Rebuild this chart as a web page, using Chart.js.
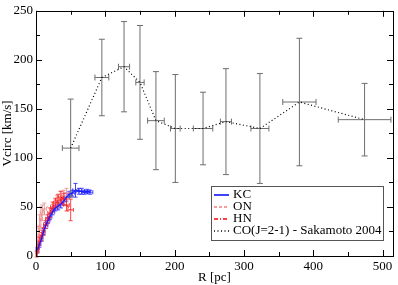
<!DOCTYPE html>
<html>
<head>
<meta charset="utf-8">
<script src="https://cdn.jsdelivr.net/npm/chart.js@4"></script>
<style>
  html, body { margin: 0; padding: 0; background: #fff; }
  canvas { display: block; }
</style>
</head>
<body>
<canvas id="myChart" width="398" height="285"></canvas>
<script>
// axis ticks
const xTicks = [0, 100, 200, 300, 400, 500];
const yTicks = [0, 50, 100, 150, 200, 250];

// KC
const kcR = [2, 5, 8, 11, 14, 17, 20, 24, 28, 32, 36, 40, 44, 48, 52, 57, 62, 66, 70, 74, 78];
const kcV = [6, 12, 18, 25, 31, 36, 40, 45, 49, 51, 53, 56, 60, 63, 64, 67, 66, 66, 65, 66, 65];
const kcRErr = [2, 2, 2, 2, 3, 3, 3, 3, 3, 3, 3, 4, 4, 4, 4, 4, 4, 4, 4, 4, 4];
const kcVErr = [3, 3, 3, 3, 3, 3, 3, 3, 3, 4, 4, 4, 4, 3, 3, 7, 3, 3, 2, 2, 2];

// ON
const onR = [3, 5, 7, 9, 12, 30, 35, 40, 44];
const onV = [20, 30, 38, 44, 48, 56, 60, 62, 64];
const onRErr = [2, 2, 2, 3, 3, 4, 4, 4, 4];
const onVErr = [10, 12, 12, 8, 6, 6, 6, 5, 5];

// HN
const hnR = [1, 3, 5, 8, 11, 14, 17, 20, 24, 28, 32, 36, 40, 44, 50];
const hnV = [2, 8, 15, 20, 25, 32, 38, 44, 50, 54, 57, 60, 58, 52, 47];
const hnRErr = [1, 2, 2, 2, 2, 3, 3, 3, 3, 3, 4, 4, 4, 4, 4];
const hnVErr = [3, 4, 4, 4, 4, 4, 4, 5, 5, 5, 6, 6, 6, 6, 11];

// CO(J=2-1) - Sakamoto 2004
const coR = [50, 95, 127, 150, 173, 201, 241, 274, 323, 380, 474];
const coV = [110, 182, 193, 177, 138, 130, 130, 137, 130, 157, 139];
const coRErr = [12, 10, 8, 6, 12, 7, 14, 8, 13, 24, 38];
const coVErr = [50, 39, 46, 58, 50, 55, 37, 54, 56, 65, 37];

const serif = "'Liberation Serif', 'Times New Roman', serif";
Chart.defaults.font.family = serif;
Chart.defaults.font.size = 13;
Chart.defaults.color = "#000";

function pts(xs, ys) {
  return xs.map((x, i) => ({ x: x, y: ys[i] }));
}

// error bars with caps, drawn under the lines
const errorBars = {
  id: "errorBars",
  beforeDatasetsDraw(chart) {
    const { ctx, scales: { x, y } } = chart;
    ctx.save();
    chart.data.datasets.forEach(ds => {
      ctx.strokeStyle = ds.errColor;
      ctx.lineWidth = 1;
      ctx.setLineDash([]);
      ds.data.forEach((p, i) => {
        const px = x.getPixelForValue(p.x);
        const py = y.getPixelForValue(p.y);
        const x0 = x.getPixelForValue(p.x - ds.errX[i]);
        const x1 = x.getPixelForValue(p.x + ds.errX[i]);
        const y0 = y.getPixelForValue(p.y - ds.errY[i]);
        const y1 = y.getPixelForValue(p.y + ds.errY[i]);
        const c = ds.cap;
        ctx.beginPath();
        ctx.moveTo(x0, py); ctx.lineTo(x1, py);
        ctx.moveTo(x0, py - c); ctx.lineTo(x0, py + c);
        ctx.moveTo(x1, py - c); ctx.lineTo(x1, py + c);
        ctx.moveTo(px, y0); ctx.lineTo(px, y1);
        ctx.moveTo(px - c, y0); ctx.lineTo(px + c, y0);
        ctx.moveTo(px - c, y1); ctx.lineTo(px + c, y1);
        ctx.stroke();
      });
    });
    ctx.restore();
  }
};

// frame, inward ticks and legend box
const frame = {
  id: "frame",
  afterDraw(chart) {
    const { ctx, chartArea: a, scales: { x, y } } = chart;
    ctx.save();
    ctx.strokeStyle = "#000";
    ctx.lineWidth = 1;
    ctx.setLineDash([]);
    ctx.strokeRect(Math.round(a.left) + 0.5, Math.round(a.top) + 0.5,
      Math.round(a.right - a.left), Math.round(a.bottom - a.top));
    ctx.beginPath();
    for (let v = 0; v <= 500; v += 50) {
      const px = Math.round(x.getPixelForValue(v)) + 0.5;
      const len = v % 100 === 0 ? 6 : 4;
      ctx.moveTo(px, a.bottom); ctx.lineTo(px, a.bottom - len);
      ctx.moveTo(px, a.top); ctx.lineTo(px, a.top + len);
    }
    for (let v = 0; v <= 250; v += 25) {
      const py = Math.round(y.getPixelForValue(v)) + 0.5;
      const len = v % 50 === 0 ? 6 : 4;
      ctx.moveTo(a.left, py); ctx.lineTo(a.left + len, py);
      ctx.moveTo(a.right, py); ctx.lineTo(a.right - len, py);
    }
    ctx.stroke();

    // legend
    ctx.fillStyle = "#fff";
    ctx.fillRect(211, 186, 173, 55);
    ctx.strokeStyle = "#555";
    ctx.strokeRect(211.5, 186.5, 172, 54);
    ctx.font = "13px " + serif;
    ctx.textBaseline = "middle";
    ctx.fillStyle = "#000";
    chart.data.datasets.forEach((ds, i) => {
      const ly = Math.round(194.5 + i * 12.2);
      ctx.strokeStyle = ds.legendColor;
      ctx.lineWidth = 1.5;
      ctx.setLineDash(ds.borderDash || []);
      ctx.beginPath();
      ctx.moveTo(214, ly);
      ctx.lineTo(229, ly);
      ctx.stroke();
      ctx.fillText(ds.label, 233, ly);
    });
    ctx.restore();
  }
};

new Chart(document.getElementById("myChart"), {
  type: "line",
  data: {
    datasets: [
      {
        label: "KC",
        data: pts(kcR, kcV),
        errX: kcRErr, errY: kcVErr,
        borderColor: "#1a1aff", legendColor: "#0000ff",
        errColor: "rgba(40,40,255,0.85)", cap: 2,
        borderWidth: 1.3
      },
      {
        label: "ON",
        data: pts(onR, onV),
        errX: onRErr, errY: onVErr,
        borderColor: "#f08a8a", legendColor: "#f08080",
        errColor: "rgba(235,140,140,0.8)", cap: 2,
        borderDash: [3, 2], borderWidth: 1
      },
      {
        label: "HN",
        data: pts(hnR, hnV),
        errX: hnRErr, errY: hnVErr,
        borderColor: "#ff1a1a", legendColor: "#ff0000",
        errColor: "rgba(255,40,40,0.85)", cap: 2,
        borderDash: [4, 2, 1, 2], borderWidth: 1.3
      },
      {
        label: "CO(J=2-1) - Sakamoto 2004",
        data: pts(coR, coV),
        errX: coRErr, errY: coVErr,
        borderColor: "#000", legendColor: "#000",
        errColor: "#6e6e6e", cap: 3,
        borderDash: [1, 2.5], borderWidth: 1.2
      }
    ]
  },
  options: {
    responsive: false,
    animation: false,
    devicePixelRatio: 1,
    layout: { padding: { top: 5, right: 5, left: 0, bottom: 0 } },
    elements: {
      point: { radius: 0 },
      line: { tension: 0, fill: false }
    },
    plugins: {
      legend: { display: false },
      tooltip: { enabled: false }
    },
    scales: {
      x: {
        type: "linear",
        min: 0,
        max: 515,
        grid: { display: false, drawTicks: false },
        border: { display: false },
        afterBuildTicks: s => { s.ticks = xTicks.map(v => ({ value: v })); },
        afterFit: s => { s.height = 29; },
        ticks: { padding: 3, maxRotation: 0, autoSkip: false },
        title: { display: true, text: "R [pc]", padding: { top: 0, bottom: 0 } }
      },
      y: {
        type: "linear",
        min: 0,
        max: 250,
        grid: { display: false, drawTicks: false },
        border: { display: false },
        afterBuildTicks: s => { s.ticks = yTicks.map(v => ({ value: v })); },
        afterFit: s => { s.width = 36; },
        ticks: { padding: 3, autoSkip: false },
        title: { display: true, text: "Vcirc [km/s]", padding: { top: 0, bottom: 0 } }
      }
    }
  },
  plugins: [errorBars, frame]
});
</script>
</body>
</html>
